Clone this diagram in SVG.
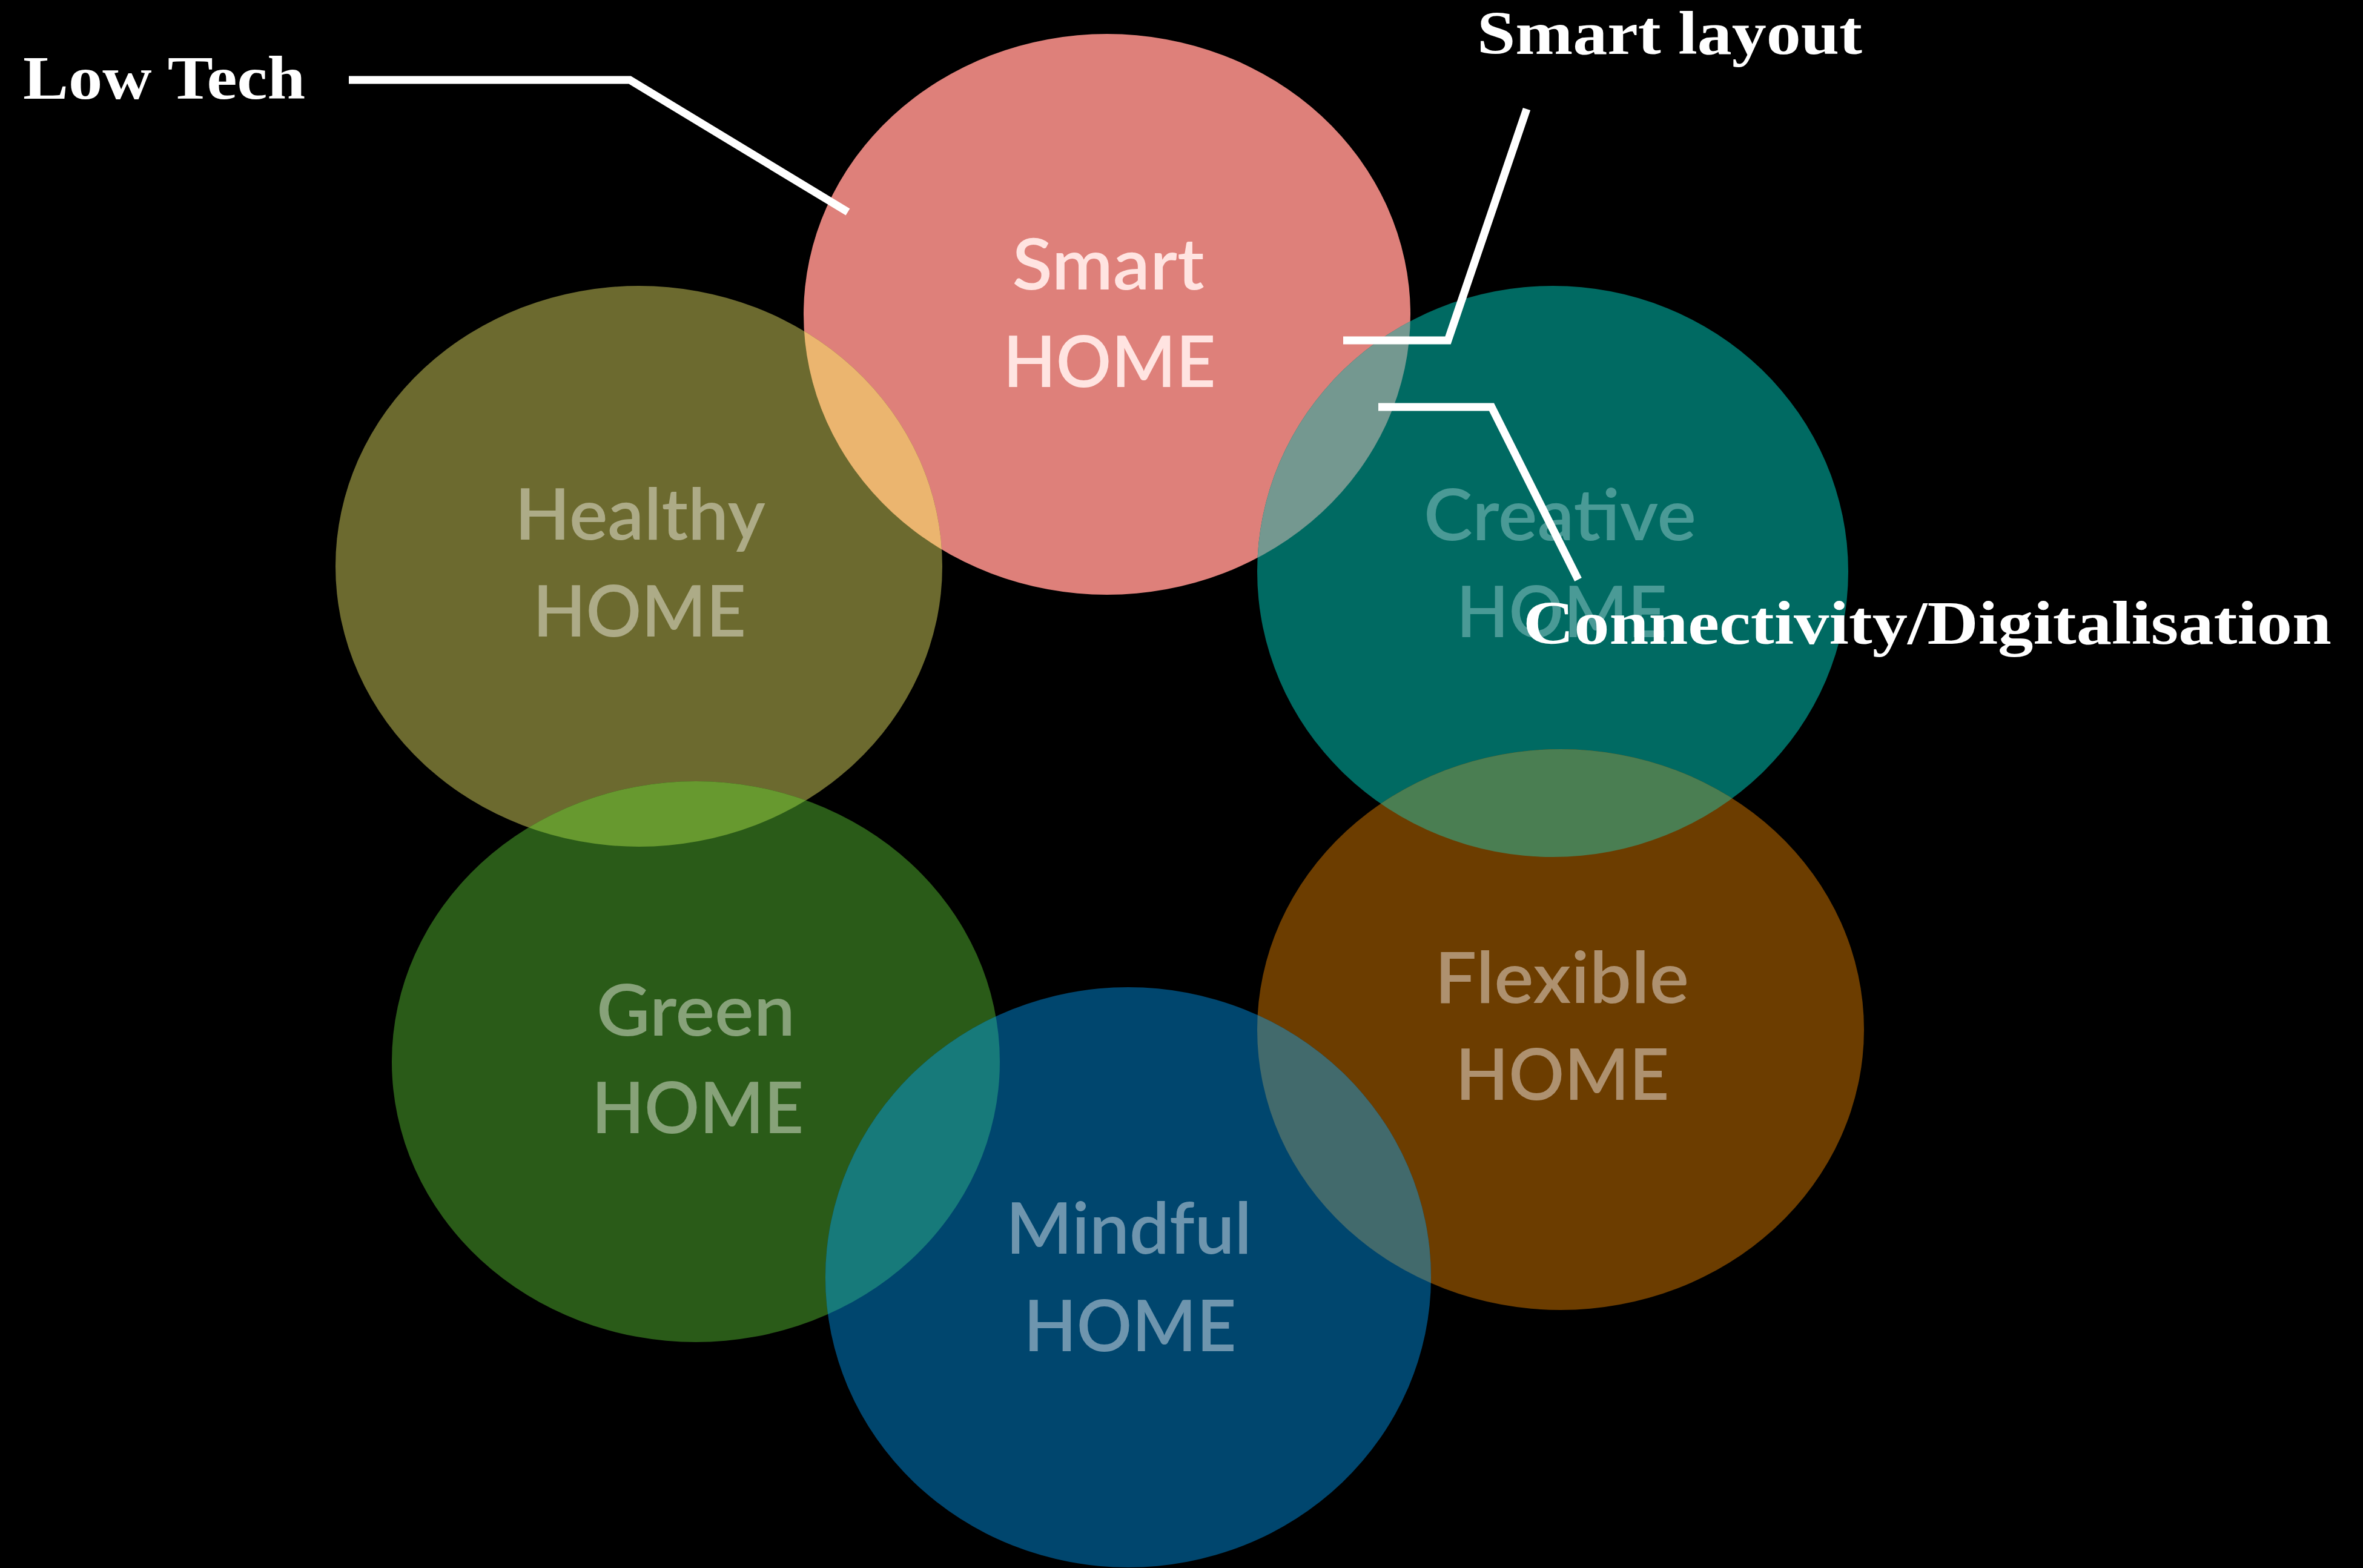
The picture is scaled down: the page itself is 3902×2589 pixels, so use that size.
<svg xmlns="http://www.w3.org/2000/svg" xmlns:xlink="http://www.w3.org/1999/xlink" width="3902" height="2589" viewBox="0 0 3902 2589">
<style>
.lbl{font-family:Lato,"Noto Sans","Liberation Sans",sans-serif;font-weight:600;font-size:117px;text-anchor:middle}
.call{font-family:"Liberation Serif","DejaVu Serif",serif;font-weight:bold;font-size:102px;fill:#ffffff}
.conn{fill:none;stroke:#ffffff;stroke-width:13;stroke-linejoin:miter;stroke-linecap:butt}
</style>
<defs>
<ellipse id="eS" cx="1828" cy="519" rx="501" ry="463"/>
<ellipse id="eH" cx="1055" cy="935" rx="501" ry="463"/>
<ellipse id="eC" cx="2564" cy="943.5" rx="488" ry="471.5"/>
<ellipse id="eG" cx="1149" cy="1753" rx="502" ry="463"/>
<ellipse id="eF" cx="2577" cy="1700" rx="501" ry="463"/>
<ellipse id="eM" cx="1863" cy="2109" rx="500" ry="479"/>
<clipPath id="cS"><use xlink:href="#eS"/></clipPath>
<clipPath id="cH"><use xlink:href="#eH"/></clipPath>
<clipPath id="cG"><use xlink:href="#eG"/></clipPath>
<clipPath id="cF"><use xlink:href="#eF"/></clipPath>
<clipPath id="cC"><use xlink:href="#eC"/></clipPath>
</defs>
<rect width="3902" height="2589" fill="#000000"/>
<g id="node-smart"><use xlink:href="#eS" fill="#DE807A"/></g>
<g id="node-healthy"><use xlink:href="#eH" fill="#6C6A2F"/></g>
<g id="node-creative"><use xlink:href="#eC" fill="#006A62"/></g>
<g id="node-green"><use xlink:href="#eG" fill="#2A5B18"/></g>
<g id="node-flexible"><use xlink:href="#eF" fill="#6C3D00"/></g>
<g id="node-mindful"><use xlink:href="#eM" fill="#00466E"/></g>
<g id="overlaps">
<use xlink:href="#eH" clip-path="url(#cS)" fill="#EBB56F"/>
<use xlink:href="#eC" clip-path="url(#cS)" fill="#749890"/>
<use xlink:href="#eG" clip-path="url(#cH)" fill="#67992F"/>
<use xlink:href="#eM" clip-path="url(#cG)" fill="#177A7A"/>
<use xlink:href="#eM" clip-path="url(#cF)" fill="#426A6C"/>
<use xlink:href="#eF" clip-path="url(#cC)" fill="#4A7E52"/>
</g>
<g id="labels">
<text class="lbl" fill="#FFE4E1" x="1830" y="478" textLength="317" lengthAdjust="spacingAndGlyphs">Smart</text>
<text class="lbl" fill="#FFE4E1" x="1832" y="639" textLength="351" lengthAdjust="spacingAndGlyphs">HOME</text>
<text class="lbl" fill="#ADAB87" x="1057" y="891" textLength="414" lengthAdjust="spacingAndGlyphs">Healthy</text>
<text class="lbl" fill="#ADAB87" x="1056" y="1051" textLength="352" lengthAdjust="spacingAndGlyphs">HOME</text>
<text class="lbl" fill="#4A9A96" x="2576" y="892" textLength="450" lengthAdjust="spacingAndGlyphs">Creative</text>
<text class="lbl" fill="#4A9A96" x="2579" y="1052" textLength="348" lengthAdjust="spacingAndGlyphs">HOME</text>
<text class="lbl" fill="#87A279" x="1149" y="1710" textLength="328" lengthAdjust="spacingAndGlyphs">Green</text>
<text class="lbl" fill="#87A279" x="1152" y="1871" textLength="350" lengthAdjust="spacingAndGlyphs">HOME</text>
<text class="lbl" fill="#AE916F" x="2579" y="1656" textLength="420" lengthAdjust="spacingAndGlyphs">Flexible</text>
<text class="lbl" fill="#AE916F" x="2580" y="1816" textLength="353" lengthAdjust="spacingAndGlyphs">HOME</text>
<text class="lbl" fill="#6E95AE" x="1864" y="2070" textLength="406" lengthAdjust="spacingAndGlyphs">Mindful</text>
<text class="lbl" fill="#6E95AE" x="1866" y="2231" textLength="351" lengthAdjust="spacingAndGlyphs">HOME</text>
</g>
<g id="connectors">
<path class="conn" d="M576 132 L1040 132 L1400 350"/>
<path class="conn" d="M2218 562 L2391 562 L2521 180"/>
<path class="conn" d="M2276 672 L2463 672 L2606 957"/>
</g>
<g id="callouts">
<text class="call" x="38" y="163" textLength="466" lengthAdjust="spacingAndGlyphs">Low Tech</text>
<text class="call" x="2439" y="89" textLength="636" lengthAdjust="spacingAndGlyphs">Smart layout</text>
<text class="call" x="2515" y="1063" textLength="1335" lengthAdjust="spacingAndGlyphs">Connectivity/Digitalisation</text>
</g>
</svg>
